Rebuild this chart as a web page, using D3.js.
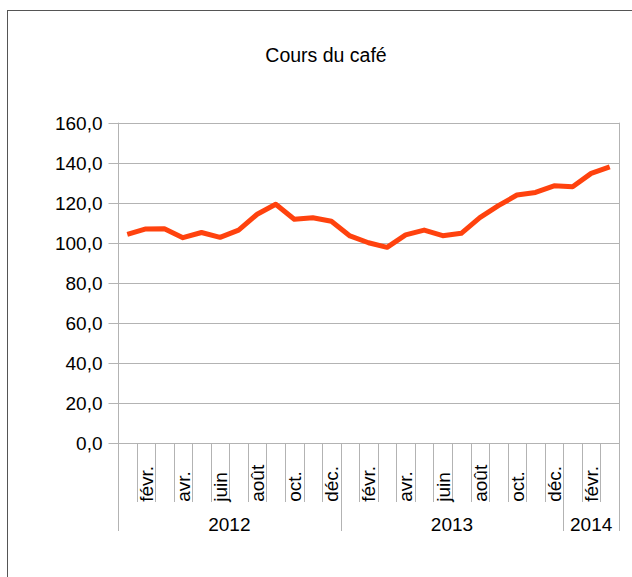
<!DOCTYPE html>
<head>
  <meta charset="utf-8">
  <script src="https://d3js.org/d3.v7.min.js"></script>
  <style>
    body { margin:0; background:#fff; }
    svg text { font-family: "Liberation Sans", Arial, sans-serif; fill:#000; }
  </style>
</head>
<body>
<script>

// months Jan 2012 .. Mar 2014
var months = ['janv.','févr.','mars','avr.','mai','juin','juil.','août','sept.','oct.','nov.','déc.',
              'janv.','févr.','mars','avr.','mai','juin','juil.','août','sept.','oct.','nov.','déc.',
              'janv.','févr.','mars'];
var years = ['2012', '2013', '2014'];
var yearCounts = [12, 12, 3];
var prices = [104.3, 107.0, 107.1, 102.6, 105.2, 102.8, 106.4, 114.3, 119.3, 111.8, 112.6, 110.8,
              103.5, 100.1, 97.8, 104.0, 106.4, 103.6, 104.8, 112.6, 118.6, 123.9, 125.2, 128.5,
              128.0, 134.7, 138.0];
var yTicks = [0, 20, 40, 60, 80, 100, 120, 140, 160];

var width = 632, height = 577;
var plotLeft = 118, plotRight = 619, plotTop = 122.7, plotBottom = 443.3;

var svg = d3.select('body').append('svg')
  .attr('width', width)
  .attr('height', height);

// frame
svg.append('rect')
  .attr('x', 7.5).attr('y', 10.5)
  .attr('width', 700).attr('height', 700)
  .style('fill', 'none')
  .style('stroke', '#555')
  .style('stroke-width', 1);

svg.append('text')
  .attr('x', 326).attr('y', 61.5)
  .attr('text-anchor', 'middle')
  .style('font-size', '19.5px')
  .text('Cours du café');

var x = d3.scaleBand()
  .domain(d3.range(months.length))
  .range([plotLeft, plotRight])
  .padding(0);

var y = d3.scaleLinear()
  .domain([0, 160])
  .range([plotBottom, plotTop]);

var comma = d3.formatLocale({decimal: ',', thousands: ' ', grouping: [3], currency: ['', '€']}).format('.1f');

// grid
svg.append('g').selectAll('line')
  .data(yTicks)
  .enter().append('line')
  .attr('x1', plotLeft).attr('x2', plotRight)
  .attr('y1', function(d) { return Math.round(y(d)) + 0.5; })
  .attr('y2', function(d) { return Math.round(y(d)) + 0.5; })
  .style('stroke', '#b3b3b3');

// y axis
var yAxis = svg.append('g')
  .attr('transform', 'translate(' + (plotLeft + 0.5) + ',0)')
  .call(d3.axisLeft(y).tickValues(yTicks).tickSize(10).tickPadding(6).tickFormat(comma));
yAxis.selectAll('.domain').remove();
yAxis.selectAll('line').style('stroke', '#b3b3b3');
yAxis.selectAll('.tick').attr('transform', function(d) { return 'translate(0,' + (Math.round(y(d)) + 0.5) + ')'; });
yAxis.selectAll('text')
  .style('font-size', '19px')
  .attr('dy', '0.36em');

// vertical edges of plot (down to year row)
var groupEdges = [0];
yearCounts.forEach(function(c, i) { groupEdges.push(groupEdges[i] + c); });

function edgeX(i) { return i >= months.length ? plotRight : x(i); }

svg.append('g').selectAll('line')
  .data(d3.range(1, months.length))
  .enter().append('line')
  .attr('x1', function(d) { return Math.round(edgeX(d)) + 0.5; })
  .attr('x2', function(d) { return Math.round(edgeX(d)) + 0.5; })
  .attr('y1', plotBottom).attr('y2', 502)
  .style('stroke', '#b3b3b3');

svg.append('g').selectAll('line')
  .data(groupEdges)
  .enter().append('line')
  .attr('x1', function(d) { return Math.round(edgeX(d)) + 0.5; })
  .attr('x2', function(d) { return Math.round(edgeX(d)) + 0.5; })
  .attr('y1', function(d, i) { return (i == 0 || i == groupEdges.length - 1) ? plotTop : plotBottom; })
  .attr('y2', 531)
  .style('stroke', '#b3b3b3');

// month labels
var xAxis = svg.append('g')
  .attr('transform', 'translate(0,' + plotBottom + ')')
  .call(d3.axisBottom(x).tickSize(0)
    .tickFormat(function(i) { return i % 2 == 1 ? months[i] : ''; }));
xAxis.select('.domain').remove();
xAxis.selectAll('text')
  .style('font-size', '19px')
  .attr('text-anchor', 'start')
  .attr('transform', 'translate(0,58.5) rotate(-90)')
  .attr('x', 0).attr('y', 0)
  .attr('dy', '0.36em');

// year labels
svg.append('g').selectAll('text')
  .data(years)
  .enter().append('text')
  .attr('x', function(d, i) { return (edgeX(groupEdges[i]) + edgeX(groupEdges[i + 1])) / 2; })
  .attr('y', 531)
  .attr('text-anchor', 'middle')
  .style('font-size', '19px')
  .text(function(d) { return d; });

// line
var line = d3.line()
  .x(function(d, i) { return x(i) + x.bandwidth() / 2; })
  .y(function(d) { return y(d); });

svg.append('path')
  .datum(prices)
  .attr('d', line)
  .style('fill', 'none')
  .style('stroke', '#ff420e')
  .style('stroke-width', 5)
  .style('stroke-linejoin', 'round');

</script>
</body>
